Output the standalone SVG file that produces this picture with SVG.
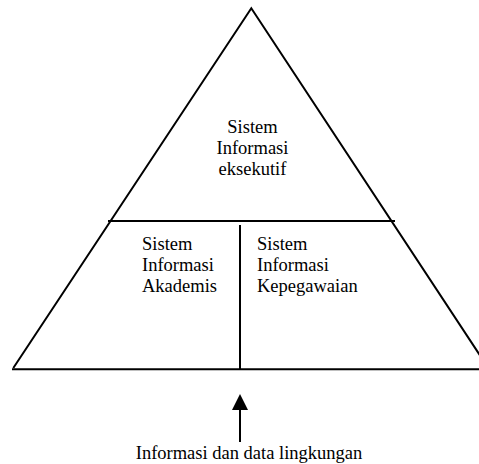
<svg xmlns="http://www.w3.org/2000/svg" width="479" height="464" viewBox="0 0 479 464">
<defs>
<style>
.ln{stroke:#000;stroke-width:2;fill:none}
.t{font-family:"Liberation Serif","Times New Roman",serif;font-size:18.5px;fill:#000}
.c{text-anchor:middle}
</style>
</defs>
<rect width="479" height="464" fill="#fff"/>
<g id="pyramid">
<path class="ln" d="M13.3,368 L251.3,8.3 L489,369"/>
<line class="ln" x1="12" y1="369.3" x2="479" y2="369.3"/>
</g>
<g id="executive">
<line class="ln" x1="108" y1="221" x2="395" y2="221" stroke-width="1.6"/>
<text class="t c" x="252.5" y="133">Sistem</text>
<text class="t c" x="252.5" y="154">Informasi</text>
<text class="t c" x="252.5" y="175">eksekutif</text>
</g>
<g id="akademis">
<text class="t" x="142" y="250">Sistem</text>
<text class="t" x="142" y="271">Informasi</text>
<text class="t" x="142" y="292">Akademis</text>
</g>
<g id="kepegawaian">
<line class="ln" x1="240" y1="225" x2="240" y2="370" stroke-width="1.6"/>
<text class="t" x="257" y="250">Sistem</text>
<text class="t" x="257" y="271">Informasi</text>
<text class="t" x="257" y="292">Kepegawaian</text>
</g>
<g id="connectors">
<line class="ln" x1="240" y1="442" x2="240" y2="408"/>
<polygon points="240,394 248,410 232,410" fill="#000"/>
</g>
<g id="environment">
<text class="t c" x="249" y="459">Informasi dan data lingkungan</text>
</g>
</svg>
